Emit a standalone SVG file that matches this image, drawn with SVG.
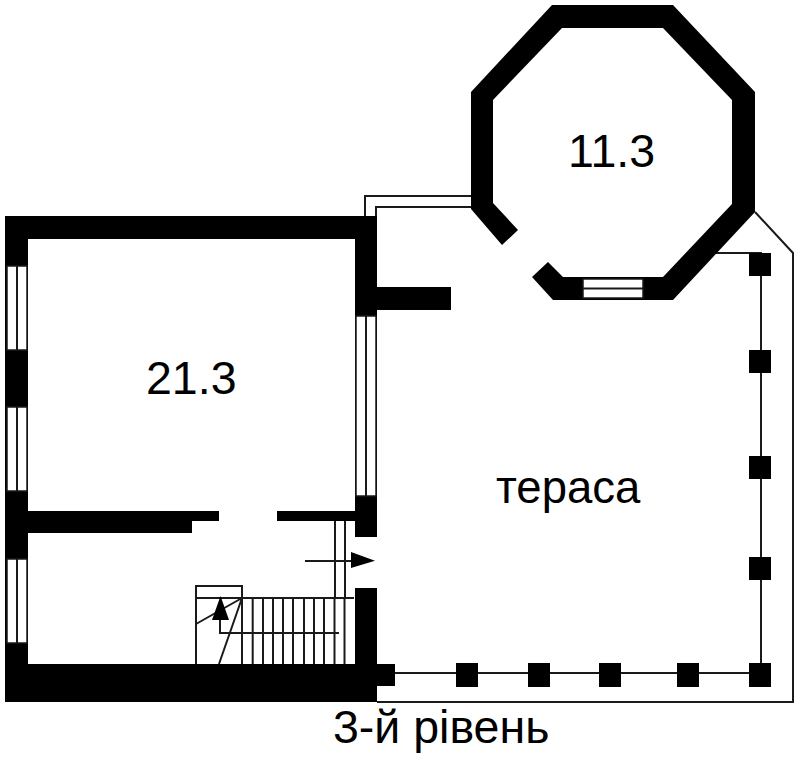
<svg xmlns="http://www.w3.org/2000/svg" width="799" height="757" viewBox="0 0 799 757">
<style>
.wall{fill:#000;stroke:none}
.ln{fill:none;stroke:#1a1a1a;stroke-width:2}
.win{fill:#fff;stroke:#1a1a1a;stroke-width:1.5}
text{font-family:"Liberation Sans",Arial,sans-serif;fill:#000}
</style>
<rect width="799" height="757" fill="#fff"/>
<g id="connectors">
<path class="ln" d="M365 217V196H471M376 217V207H471"/>
<path class="ln" d="M755 212L793 253V702H377"/>
<path class="ln" d="M716 253H761V673H395"/>
<path class="ln" d="M335 521V598M345 521V598"/>
<path class="ln" d="M305 561H351"/>
<path class="ln" d="M196 664V586H242V664M196 598H354M252.700 598V664M263 598V664M273 598V664M283 598V664M293 598V664M304 598V664M314 598V664M324 598V664M334.500 598V664M344.500 598V664"/>
<path class="ln" d="M196 624L242 598M219 664L242 598M220 612V633H339"/>
<path d="M351 552L375 560.700L351 568Z" fill="#000"/>
<path d="M220.500 596L229 620H212Z" fill="#000"/>
</g>
<g id="octagon">
<path class="wall" d="M518 230L493 203V100L562 28H663L732 100V204L663 277H563L548 262L532 277L553 300H673L755 212V92L673 5H552L471 92V209L502 245Z"/>
<rect class="win" x="583" y="279" width="60" height="19"/>
<path class="ln" d="M583 288.500H643"/>
</g>
<g id="room">
<path class="wall" d="M5 216H377V537H355V521H277V511H355V239H28V511H219V521H192V533H28V664H355V588H377V664H395V686H377V702H5Z"/>
<rect class="wall" x="355" y="287" width="96" height="23"/>
<rect class="win" x="356" y="316" width="20" height="180"/>
<path class="ln" d="M366 316V496"/>
<rect class="win" x="7" y="266" width="20" height="84"/>
<rect class="win" x="7" y="407" width="20" height="84"/>
<rect class="win" x="7" y="559" width="20" height="84"/>
<path class="ln" d="M17 266V350M17 407V491M17 559V643"/>
</g>
<g id="posts" class="wall">
<rect x="749" y="253" width="22" height="23"/>
<rect x="749" y="350" width="22" height="23"/>
<rect x="749" y="456" width="22" height="23"/>
<rect x="749" y="557" width="22" height="23"/>
<rect x="749" y="663" width="22" height="24"/>
<rect x="677" y="663" width="22" height="24"/>
<rect x="599" y="663" width="22" height="24"/>
<rect x="528" y="663" width="22" height="24"/>
<rect x="456" y="663" width="22" height="24"/>
</g>
<g id="labels">
<text x="568" y="167" font-size="46.500">11.3</text>
<text x="146" y="394" font-size="46.500">21.3</text>
<text x="496" y="503" font-size="45.500">тераса</text>
<text x="333" y="743" font-size="46.500">3-й рівень</text>
</g>
</svg>
